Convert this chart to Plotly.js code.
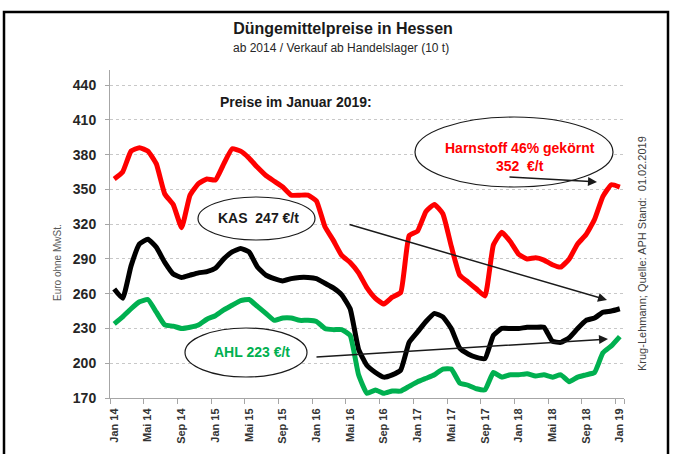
<!DOCTYPE html>
<html>
<head>
<meta charset="utf-8">
<script src="https://cdn.plot.ly/plotly-3.0.1.min.js"></script>
<style>
html,body{margin:0;padding:0;background:#fff;}
#chart{width:675px;height:454px;}
</style>
</head>
<body>
<div id="chart"></div>
<script>
// Monthly categories Jan 14 .. Jan 19
const months = [
 'Jan 14','Feb 14','Mrz 14','Apr 14','Mai 14','Jun 14','Jul 14','Aug 14','Sep 14','Okt 14','Nov 14','Dez 14',
 'Jan 15','Feb 15','Mrz 15','Apr 15','Mai 15','Jun 15','Jul 15','Aug 15','Sep 15','Okt 15','Nov 15','Dez 15',
 'Jan 16','Feb 16','Mrz 16','Apr 16','Mai 16','Jun 16','Jul 16','Aug 16','Sep 16','Okt 16','Nov 16','Dez 16',
 'Jan 17','Feb 17','Mrz 17','Apr 17','Mai 17','Jun 17','Jul 17','Aug 17','Sep 17','Okt 17','Nov 17','Dez 17',
 'Jan 18','Feb 18','Mrz 18','Apr 18','Mai 18','Jun 18','Jul 18','Aug 18','Sep 18','Okt 18','Nov 18','Dez 18',
 'Jan 19'
];
const xTickLabels = ['Jan 14','Mai 14','Sep 14','Jan 15','Mai 15','Sep 15','Jan 16','Mai 16','Sep 16',
 'Jan 17','Mai 17','Sep 17','Jan 18','Mai 18','Sep 18','Jan 19'];
const yTickVals = [170,200,230,260,290,320,350,380,410,440];

// Harnstoff 46% gekörnt (red)
const harnstoff = [359,365,383,386,383,372,346,337,317,345,355,359,358,372,385,383,377,369,362,357,352,345,345,345,340,318,306,293,287,278,265,256,251,257,261,310,314,331,337,329,301,276,270,264,258,302,313,305,294,290,291,289,285,283,290,303,311,324,344,354,352];
// KAS (black)
const kas = [264,256,284,303,307,300,287,277,274,276,278,279,282,290,296,299,296,283,276,273,271,273,274,274,273,269,265,259,247,212,198,192,188,190,194,218,227,236,243,240,230,213,208,205,204,224,230,230,230,231,231,231,219,218,222,230,237,239,244,245,247];
// AHL (green)
const ahl = [234,240,247,253,255,244,233,232,230,231,233,238,241,246,250,254,255,249,243,237,239,239,237,237,236,230,229,229,224,190,174,177,174,176,176,180,184,187,190,195,195,183,181,178,177,192,188,190,190,191,189,190,188,190,184,188,190,192,209,215,223];

const FONT = 'Liberation Sans, Arial, Helvetica, sans-serif';

function line(y, color, name){
  return {x: months, y: y, type:'scatter', mode:'lines', name:name,
    line:{color:color, width:5, shape:'spline', smoothing:0.4}, hoverinfo:'skip'};
}
const data = [line(harnstoff,'#ff0000','Harnstoff'), line(kas,'#000000','KAS'), line(ahl,'#00b050','AHL')];

const layout = {
  width:675, height:454,
  margin:{l:110, r:51, t:70, b:56},
  paper_bgcolor:'#ffffff', plot_bgcolor:'#ffffff',
  showlegend:false,
  font:{family:FONT, color:'#262626'},
  title:{text:'<b>Düngemittelpreise in Hessen</b>', x:343/675, xanchor:'center', y:1-28/454, yanchor:'middle',
         font:{family:FONT, size:16, color:'#1a1a1a'}},
  xaxis:{type:'category', range:[-0.5,60.5], tickmode:'array', tickvals:xTickLabels, ticktext:xTickLabels,
         tickson:'boundaries', ticks:'outside', ticklen:5, tickcolor:'#a6a6a6', tickangle:-90, ticklabelstandoff:5,
         showgrid:false, zeroline:false, showline:true, linecolor:'#a6a6a6', linewidth:1,
         tickfont:{family:FONT, size:11, color:'#333333', weight:'bold'}, fixedrange:true},
  yaxis:{range:[170,453], tickmode:'array', tickvals:yTickVals, ticktext:yTickVals.map(String),
         ticks:'outside', ticklen:4, tickcolor:'#a6a6a6', ticklabelstandoff:6,
         showgrid:true, gridcolor:'#c8c8c8', griddash:'dot', gridwidth:1,
         zeroline:false, showline:true, linecolor:'#a6a6a6', linewidth:1,
         tickfont:{family:FONT, size:14, color:'#262626', weight:'bold'}, fixedrange:true},
  shapes:[
    {type:'rect', xref:'paper', yref:'paper', x0:(4-110)/514, x1:(668-110)/514, y0:(398-470)/328, y1:(398-12)/328,
     line:{color:'#000000', width:2.5}, fillcolor:'rgba(0,0,0,0)', layer:'below'},
    {type:'circle', xref:'paper', yref:'paper', x0:(198-110)/514, x1:(315-110)/514, y0:(398-240)/328, y1:(398-197)/328,
     line:{color:'#1a1a1a', width:1.2}, fillcolor:'#ffffff', layer:'above'},
    {type:'circle', xref:'paper', yref:'paper', x0:(415-110)/514, x1:(613-110)/514, y0:(398-187)/328, y1:(398-117)/328,
     line:{color:'#1a1a1a', width:1.2}, fillcolor:'#ffffff', layer:'above'},
    {type:'circle', xref:'paper', yref:'paper', x0:(185-110)/514, x1:(307-110)/514, y0:(398-377)/328, y1:(398-328)/328,
     line:{color:'#1a1a1a', width:1.2}, fillcolor:'#ffffff', layer:'above'}
  ],
  annotations:[
    {text:'ab 2014 / Verkauf ab Handelslager (10 t)', xref:'paper', yref:'paper', x:(341-110)/514, y:(398-48)/328,
     xanchor:'center', yanchor:'middle', showarrow:false, font:{family:FONT, size:12, color:'#262626'}},
    {text:'<b>Preise im Januar 2019:</b>', xref:'paper', yref:'paper', x:(218-110)/514, y:(398-102)/328,
     xanchor:'left', yanchor:'middle', showarrow:false, font:{family:FONT, size:14, color:'#1a1a1a'}},
    {text:'Euro ohne MwSt.', xref:'paper', yref:'paper', x:(57-110)/514, y:(398-263)/328, textangle:-90,
     xanchor:'center', yanchor:'middle', showarrow:false, font:{family:FONT, size:10, color:'#595959'}},
    {text:'Krug-Lehmann; Quelle: APH Stand:  01.02.2019', xref:'paper', yref:'paper', x:(642-110)/514, y:(398-254)/328, textangle:-90,
     xanchor:'center', yanchor:'middle', showarrow:false, font:{family:FONT, size:11, color:'#404040'}},
    {text:'<b>KAS  247 €/t</b>', xref:'paper', yref:'paper', x:(258-110)/514, y:(398-218)/328,
     xanchor:'center', yanchor:'middle', showarrow:false, font:{family:FONT, size:14, color:'#1a1a1a'}},
    {text:'<b>Harnstoff 46% gekörnt<br>352  €/t</b>', xref:'paper', yref:'paper', x:(520-110)/514, y:(398-157)/328,
     xanchor:'center', yanchor:'middle', showarrow:false, font:{family:FONT, size:14, color:'#ff0000'}},
    {text:'<b>AHL 223 €/t</b>', xref:'paper', yref:'paper', x:(252-110)/514, y:(398-352)/328,
     xanchor:'center', yanchor:'middle', showarrow:false, font:{family:FONT, size:14, color:'#00b050'}},
    // arrows
    {text:'', xref:'paper', yref:'paper', x:(607-110)/514, y:(398-300)/328, ax:-259, ay:-76,
     showarrow:true, arrowhead:2, arrowsize:1.2, arrowwidth:1.5, arrowcolor:'#1a1a1a'},
    {text:'', xref:'paper', yref:'paper', x:(597-110)/514, y:(398-182)/328, ax:-89, ay:-5,
     showarrow:true, arrowhead:2, arrowsize:1.2, arrowwidth:1.5, arrowcolor:'#1a1a1a'},
    {text:'', xref:'paper', yref:'paper', x:(608-110)/514, y:(398-339)/328, ax:-293, ay:18,
     showarrow:true, arrowhead:2, arrowsize:1.2, arrowwidth:1.5, arrowcolor:'#1a1a1a'}
  ]
};

Plotly.newPlot('chart', data, layout, {staticPlot:true, displayModeBar:false});
</script>
</body>
</html>
